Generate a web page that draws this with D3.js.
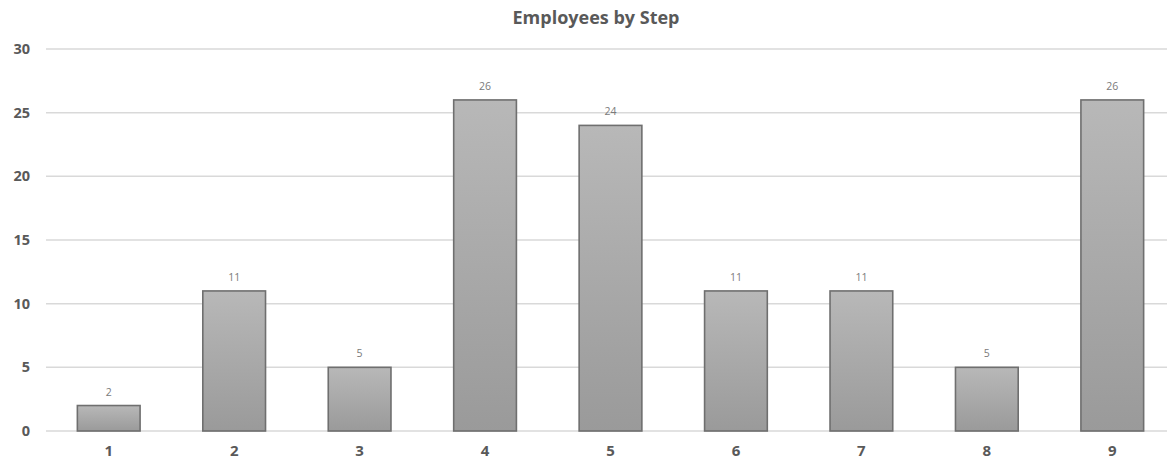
<!DOCTYPE html>
<html>
<head>
<meta charset="utf-8">
<script src="https://cdn.jsdelivr.net/npm/d3@7"></script>
<style>
  html, body { margin: 0; padding: 0; background: #fff; }
  svg { display: block; font-family: "Open Sans", "Noto Sans", sans-serif; }
</style>
</head>
<body>
<svg id="chart" width="1167" height="465"></svg>
<script>
// Employee counts per pay step
const steps = ["1", "2", "3", "4", "5", "6", "7", "8", "9"];
const employees = [2, 11, 5, 26, 24, 11, 11, 5, 26];
const yTicks = [0, 5, 10, 15, 20, 25, 30];
const chartTitle = "Employees by Step";

(function () {
  const svg = d3.select("#chart");
  const W = 1167;
  const plotLeft = 46, plotRight = 1175, plotTop = 49, plotBottom = 431;

  const x = d3.scaleBand().domain(steps).range([plotLeft, plotRight]).paddingInner(0.5).paddingOuter(0.25);
  const y = d3.scaleLinear().domain([0, 30]).range([plotBottom, plotTop]);

  // bar gradient: lighter at the top, darker toward the base
  const defs = svg.append("defs");
  const grad = defs.append("linearGradient")
    .attr("id", "barFill").attr("x1", 0).attr("y1", 0).attr("x2", 0).attr("y2", 1);
  grad.append("stop").attr("offset", "0%").attr("stop-color", "#b8b8b8");
  grad.append("stop").attr("offset", "100%").attr("stop-color", "#9a9a9a");

  // title
  svg.append("text")
    .attr("x", 596).attr("y", 24)
    .attr("text-anchor", "middle")
    .attr("font-size", 18).attr("font-weight", 700)
    .attr("fill", "#595959")
    .text(chartTitle);

  // horizontal gridlines
  svg.append("g")
    .selectAll("line")
    .data(yTicks)
    .join("line")
    .attr("x1", plotLeft).attr("x2", W)
    .attr("y1", d => y(d)).attr("y2", d => y(d))
    .attr("stroke", "#d9d9d9").attr("stroke-width", 1.5);

  // y axis labels
  const yAxis = d3.axisLeft(y).tickValues(yTicks).tickSize(0).tickPadding(0);
  const gy = svg.append("g").attr("transform", "translate(30,0)").call(yAxis);
  gy.select(".domain").remove();
  gy.selectAll("text")
    .attr("font-family", "'Open Sans', 'Noto Sans', sans-serif")
    .attr("font-size", 14.5).attr("font-weight", 700)
    .attr("fill", "#595959");

  // x axis labels
  const xAxis = d3.axisBottom(x).tickSize(0).tickPadding(0);
  const gx = svg.append("g").attr("transform", `translate(0,${plotBottom + 14})`).call(xAxis);
  gx.select(".domain").remove();
  gx.selectAll("text")
    .attr("font-family", "'Open Sans', 'Noto Sans', sans-serif")
    .attr("font-size", 15).attr("font-weight", 700)
    .attr("fill", "#595959");

  const data = steps.map((s, i) => ({ step: s, value: employees[i] }));

  // bars
  svg.append("g")
    .selectAll("rect")
    .data(data)
    .join("rect")
    .attr("x", d => x(d.step))
    .attr("y", d => y(d.value))
    .attr("width", x.bandwidth())
    .attr("height", d => y(0) - y(d.value))
    .attr("fill", "url(#barFill)")
    .attr("stroke", "#6f6f6f").attr("stroke-width", 1.6);

  // value labels
  svg.append("g")
    .selectAll("text")
    .data(data)
    .join("text")
    .attr("x", d => x(d.step) + x.bandwidth() / 2)
    .attr("y", d => y(d.value) - 10)
    .attr("text-anchor", "middle")
    .attr("font-size", 10.5)
    .attr("fill", "#7a7a7a")
    .text(d => d.value);
})();
</script>
</body>
</html>
